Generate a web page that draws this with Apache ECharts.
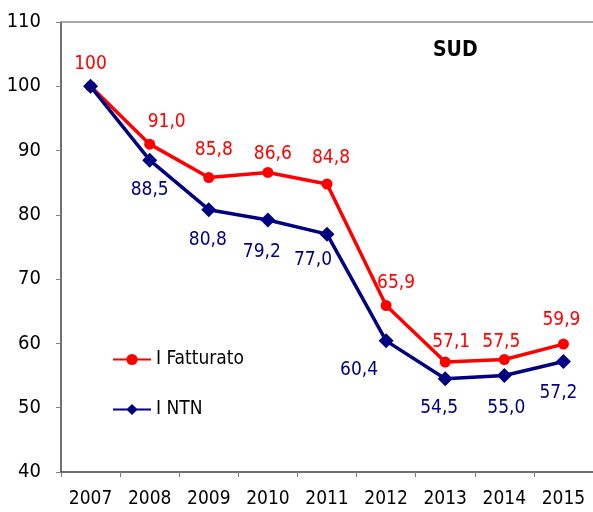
<!DOCTYPE html>
<html>
<head>
<meta charset="utf-8">
<script src="https://cdn.jsdelivr.net/npm/echarts@6/dist/echarts.min.js"></script>
<style>
  html, body { margin: 0; padding: 0; background: #fff; }
  #main { width: 593px; height: 512px; }
</style>
</head>
<body>
<div id="main"></div>
<script>
// dati
var anni = ['2007', '2008', '2009', '2010', '2011', '2012', '2013', '2014', '2015'];
var fatturato = [100, 91.0, 85.8, 86.6, 84.8, 65.9, 57.1, 57.5, 59.9];
var ntn = [100, 88.5, 80.8, 79.2, 77.0, 60.4, 54.5, 55.0, 57.2];

// spostamenti etichette (solo stile)
var offFatt = [[0, 0], [17, 0], [5, -6], [5, 4], [4, -4], [10, 0], [6, 2], [-3, 5], [-2, -2]];
var offNtn = [[0, 0], [0, 0], [-1, 0], [-6, 2], [-14, -4], [-27, -1], [-6, -1], [2, 2], [-5, 2]];

var font = '"DejaVu Sans Condensed", "DejaVu Sans", sans-serif';

function fmt(p) {
  if (p.value === 100) return '100';
  return p.value.toFixed(1).replace('.', ',');
}

var chart = echarts.init(document.getElementById('main'));

var option = {
  animation: false,
  textStyle: { fontFamily: font },
  title: {
    text: 'SUD',
    left: 433,
    top: 40,
    padding: 0,
    textStyle: { fontFamily: font, fontSize: 21, fontWeight: 'bold', color: '#000' }
  },
  legend: {
    orient: 'vertical',
    left: 112,
    top: 350,
    padding: 0,
    itemWidth: 38,
    itemHeight: 14,
    itemGap: 31,
    textStyle: { fontFamily: font, fontSize: 19, color: '#000' },
    data: ['I Fatturato', 'I NTN']
  },
  grid: { left: 61, top: 22, width: 534, height: 450 },
  xAxis: [{
    type: 'category',
    data: anni,
    boundaryGap: true,
    axisLine: { lineStyle: { color: '#404040', width: 1.5 } },
    axisTick: { show: true, length: 5, interval: 0, lineStyle: { color: '#808080' } },
    axisLabel: { color: '#000', fontSize: 19, margin: 18, interval: 0, fontFamily: font }
  }, {
    type: 'category',
    data: anni,
    position: 'top',
    axisLine: { lineStyle: { color: '#8c8c8c', width: 1.5 } },
    axisTick: { show: false },
    axisLabel: { show: false }
  }],
  yAxis: {
    type: 'value',
    min: 40,
    max: 110,
    interval: 10,
    splitLine: { show: false },
    axisLine: { show: true, lineStyle: { color: '#404040', width: 1.5 } },
    axisTick: { show: true, length: 5, lineStyle: { color: '#808080' } },
    axisLabel: { color: '#000', fontSize: 20, margin: 20, fontFamily: font }
  },
  series: [{
    name: 'I Fatturato',
    type: 'line',
    data: fatturato.map(function (v, i) {
      return { value: v, label: { offset: offFatt[i] } };
    }),
    symbol: 'circle',
    symbolSize: 11,
    color: '#ff0000',
    lineStyle: { width: 3.5, color: '#ff0000' },
    itemStyle: { color: '#ff0000' },
    label: {
      show: true,
      position: 'top',
      distance: 7,
      color: '#ff0000',
      fontSize: 19,
      fontFamily: font,
      formatter: fmt
    },
    z: 3
  }, {
    name: 'I NTN',
    type: 'line',
    data: ntn.map(function (v, i) {
      return { value: v, label: { offset: offNtn[i], show: i > 0 } };
    }),
    symbol: 'diamond',
    symbolSize: 15,
    color: '#000080',
    lineStyle: { width: 3.5, color: '#000080' },
    itemStyle: { color: '#000080' },
    label: {
      show: true,
      position: 'bottom',
      distance: 13,
      color: '#000080',
      fontSize: 19,
      fontFamily: font,
      formatter: fmt
    },
    z: 4
  }]
};

chart.setOption(option);
</script>
</body>
</html>
